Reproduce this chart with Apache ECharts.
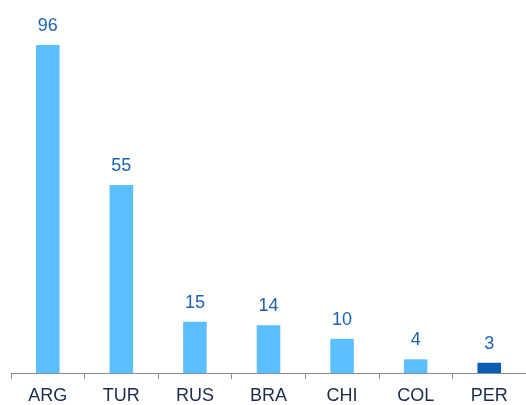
<!DOCTYPE html>
<html>
<head>
<meta charset="utf-8">
<script src="https://cdn.jsdelivr.net/npm/echarts@6/dist/echarts.min.js"></script>
<style>
  html, body { margin: 0; padding: 0; background: #fff; }
  #chart { width: 526px; height: 405px; }
</style>
</head>
<body>
<div id="chart"></div>
<script>
const categories = ["ARG", "TUR", "RUS", "BRA", "CHI", "COL", "PER"];
const values = [96, 55, 15, 14, 10, 4, 3];
const highlight = "PER";

const chart = echarts.init(document.getElementById("chart"));
chart.setOption({
  animation: false,
  grid: {
    top: 45,
    left: 11,
    right: 0,
    bottom: 31
  },
  xAxis: {
    type: "category",
    data: categories,
    axisLine: { lineStyle: { color: "#8c8c8c", width: 1 } },
    axisTick: { show: true, length: 6, lineStyle: { color: "#8c8c8c" } },
    axisLabel: {
      color: "#1c2c4c",
      fontSize: 18,
      fontFamily: "Liberation Sans",
      margin: 14
    }
  },
  yAxis: {
    type: "value",
    min: 0,
    max: 96,
    show: false,
    splitLine: { show: false }
  },
  series: [
    {
      type: "bar",
      barWidth: "32%",
      data: values.map((v, i) => ({
        value: v,
        itemStyle: { color: categories[i] === highlight ? "#0b5db4" : "#5bbfff" }
      })),
      label: {
        show: true,
        position: "top",
        distance: 10,
        color: "#1b62b5",
        fontSize: 18,
        fontFamily: "Liberation Sans"
      }
    }
  ]
});
</script>
</body>
</html>
